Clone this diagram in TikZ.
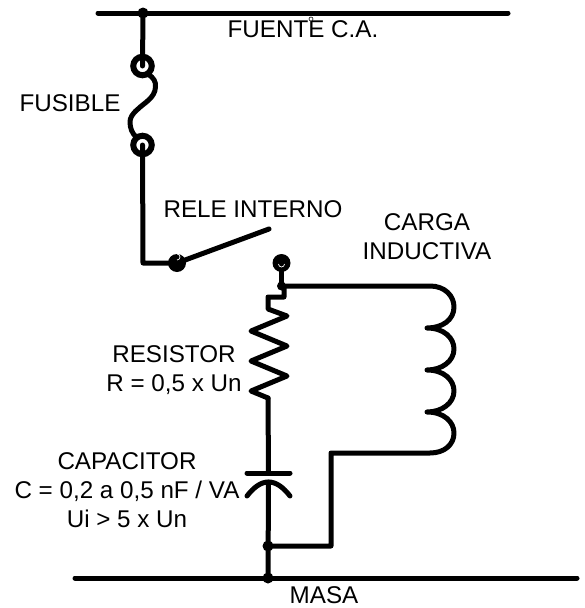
\documentclass[tikz,border=0pt]{standalone}
\usepackage{fontspec}
\setmainfont{Liberation Sans}
\tikzset{
  wire/.style={line width=5pt,line cap=round,line join=round},
  dot/.style={circle,fill=black,inner sep=0pt,minimum size=#1},
  ring/.style={circle,draw,line width=6pt,inner sep=0pt,minimum size=18.5pt},
  label/.style={align=center,font=\fontsize{24.2}{29}\selectfont,inner sep=0pt}
}
\begin{document}
\begin{tikzpicture}[x=1pt,y=-1pt]
  \useasboundingbox (0,0) rectangle (585,608);

  % bus bars
  \coordinate (busL) at (98,13);
  \coordinate (busR) at (508,13);
  \coordinate (gndL) at (75,578);
  \coordinate (gndR) at (577,578);
  \node (top) [dot=11pt] at (143,13) {};
  \node (gnd) [dot=11pt] at (268,578) {};
  \draw[wire] (busL) -- (busR);
  \draw[wire] (gndL) -- (gndR);

  % fuse
  \node (ringA) [ring] at (142.5,66) {};
  \node (ringB) [ring] at (142.5,145) {};
  \coordinate (fuseA) at (148,74);
  \coordinate (fuseB) at (136,137);
  \draw[wire] (top.center) -- (ringA.center);
  \draw[wire] (fuseA) .. controls (154,78) and (156,82) .. (155.5,87)
    .. controls (155,98) and (144,103) .. (138,109)
    .. controls (132,114) and (130,118) .. (130,122)
    .. controls (130,128) and (132,133) .. (fuseB);

  % relay
  \node (pivot) [dot=18pt] at (177,263) {};
  \node (contact) [dot=18pt] at (281.5,263) {};
  \node (tap) [dot=9pt] at (281.5,286) {};
  \coordinate (bend) at (143,263);
  \coordinate (armEnd) at (269,229);
  \draw[wire] (ringB.center) -- (bend) -- (pivot.center);
  \draw[wire] (pivot.center) -- (armEnd);
  \draw[wire] (contact.center) -- (tap.center);
  \draw[white,line width=.7pt] (278.5,264) arc (180:0:3);
  \draw[white,line width=.7pt] (177,260) arc (90:-90:3);

  % coil
  \node (mid) [dot=11pt] at (268,546) {};
  \coordinate (coilA) at (430,286);
  \coordinate (coilB) at (430,453);
  \coordinate (coilC) at (331,453);
  \coordinate (coilD) at (331,546);
  \draw[wire] (tap.center) -- (coilA)
    .. controls (445,286) and (454,296) .. (454,307)
    .. controls (454,320) and (442,328) .. (427,328)
    .. controls (444,328) and (454,338) .. (454,349)
    .. controls (454,361) and (442,370) .. (427,370)
    .. controls (444,370) and (454,380) .. (454,391)
    .. controls (454,403) and (442,412) .. (427,412)
    .. controls (444,412) and (454,422) .. (454,433)
    .. controls (454,445) and (444,453) .. (coilB)
    -- (coilC) -- (coilD) -- (mid.center);

  % resistor
  \coordinate (resA) at (284,286);
  \coordinate (resB) at (284,297);
  \coordinate (resC) at (268,297);
  \coordinate (resD) at (268,398);
  \draw[wire] (resA) -- (resB) -- (resC) -- (268,309) -- (287,316)
    -- (251,331) -- (287,346) -- (251,361) -- (287,376) -- (251,391)
    -- (resD);

  % capacitor
  \coordinate (plateL) at (247,473);
  \coordinate (plateR) at (290,473);
  \coordinate (curveL) at (247,496);
  \coordinate (curveR) at (290,496);
  \coordinate (curveT) at (268.5,482);
  \draw[wire] (resD) -- (268.5,473);
  \draw[wire] (plateL) -- (plateR);
  \draw[wire] (curveL) .. controls (254,487) and (261,482) .. (curveT)
    .. controls (276,482) and (283,487) .. (curveR);
  \draw[wire] (curveT) -- (gnd.center);

  % labels
  \node (src) [label] at (303,29) {FUENTE C.A.};
  \draw[line width=.6pt,fill=white] (311,19) circle (2pt);
  \node (fus) [label] at (70,103) {FUSIBLE};
  \node (rly) [label] at (253,209) {RELE INTERNO};
  \node (ind) [label] at (427,237) {CARGA\\INDUCTIVA};
  \node (res) [label] at (174,370) {RESISTOR\\R = 0,5 x Un};
  \node (cap) [label] at (127,490) {CAPACITOR\\C = 0,2 a 0,5 nF / VA\\Ui > 5 x Un};
  \node (mas) [label] at (324,595) {MASA};
\end{tikzpicture}
\end{document}
